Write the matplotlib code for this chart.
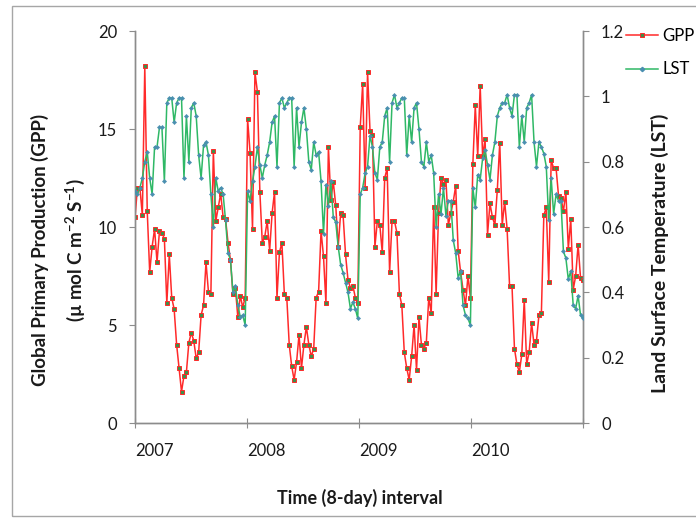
import numpy as np
import matplotlib.pyplot as plt
from matplotlib.lines import Line2D
from matplotlib.patches import Rectangle

plt.rcParams['font.family'] = ['Lato', 'DejaVu Sans']
plt.rcParams['mathtext.fontset'] = 'custom'
plt.rcParams['mathtext.rm'] = 'Lato:bold'
plt.rcParams['mathtext.bf'] = 'Lato:bold'
plt.rcParams['mathtext.it'] = 'Lato:bold:italic'

years = ['2007', '2008', '2009', '2010']

# GPP, 8-day composites (46 per year)
gpp_2007 = [10.5, 12.0, 12.0, 10.6, 18.2, 10.8, 7.7, 9.0, 9.9, 8.2,
            9.8, 9.7, 9.4, 6.1, 8.6, 6.4, 5.8, 4.0, 2.8, 1.6,
            2.4, 2.6, 4.1, 4.6, 4.2, 3.3, 3.6, 5.5, 6.0, 8.2,
            6.7, 6.6, 13.9, 10.3, 11.0, 11.7, 10.5, 10.4, 9.2, 8.3,
            6.6, 6.9, 5.4, 6.5, 5.9, 6.4]
gpp_2008 = [15.5, 13.8, 9.9, 17.9, 16.9, 11.8, 9.2, 9.5, 10.3, 8.8,
            10.7, 11.8, 6.4, 8.7, 9.2, 6.6, 6.4, 4.0, 2.9, 2.2,
            3.1, 4.5, 2.8, 4.0, 4.9, 4.0, 3.4, 3.8, 6.4, 6.7,
            9.8, 8.5, 6.1, 14.1, 11.4, 12.3, 11.1, 9.0, 10.7, 10.6,
            8.6, 7.3, 6.9, 7.0, 6.4, 6.1]
gpp_2009 = [15.1, 17.3, 12.0, 17.9, 14.9, 14.7, 9.0, 10.3, 10.1, 8.7,
            12.5, 13.0, 7.7, 10.3, 10.3, 9.7, 6.6, 6.0, 3.6, 2.8,
            2.2, 3.4, 5.0, 2.7, 5.4, 4.0, 3.8, 4.1, 6.4, 5.6,
            11.0, 6.6, 10.7, 12.5, 12.2, 12.4, 10.1, 10.7, 11.3, 12.1,
            8.8, 7.7, 6.8, 6.0, 7.5, 6.4]
gpp_2010 = [13.2, 16.2, 13.6, 17.2, 13.6, 14.5, 9.6, 11.2, 10.5, 10.1,
            11.9, 14.3, 10.1, 11.3, 9.9, 7.0, 7.0, 3.8, 3.0, 2.6,
            3.5, 6.3, 3.0, 3.6, 5.1, 4.0, 4.2, 5.5, 5.6, 10.6,
            11.0, 7.2, 13.4, 13.0, 13.0, 11.6, 11.5, 10.8, 11.8, 8.9,
            10.4, 6.8, 7.5, 9.1, 7.4, 7.3]

# LST (scaled)
lst_2007 = [0.71, 0.70, 0.72, 0.75, 0.80, 0.83, 0.75, 0.70, 0.845, 0.845,
            0.905, 0.905, 0.74, 0.98, 0.995, 0.995, 0.92, 0.98, 0.995, 0.995,
            0.75, 0.94, 0.80, 0.965, 0.98, 0.94, 0.82, 0.75, 0.85, 0.86,
            0.82, 0.70, 0.60, 0.75, 0.71, 0.72, 0.70, 0.62, 0.52, 0.50,
            0.40, 0.42, 0.36, 0.325, 0.33, 0.30]
lst_2008 = [0.71, 0.68, 0.74, 0.785, 0.845, 0.79, 0.75, 0.79, 0.82, 0.86,
            0.92, 0.94, 0.785, 0.98, 0.995, 0.965, 0.98, 0.995, 0.995, 0.785,
            0.965, 0.845, 0.92, 0.965, 0.90, 0.80, 0.775, 0.86, 0.82, 0.83,
            0.74, 0.58, 0.73, 0.665, 0.74, 0.63, 0.615, 0.54, 0.485, 0.46,
            0.43, 0.40, 0.35, 0.37, 0.35, 0.32]
lst_2009 = [0.70, 0.72, 0.765, 0.785, 0.88, 0.845, 0.765, 0.745, 0.845, 0.86,
            0.94, 0.965, 0.80, 0.98, 1.005, 0.965, 0.98, 0.995, 0.995, 0.82,
            0.94, 0.86, 0.965, 0.98, 0.90, 0.80, 0.785, 0.86, 0.80, 0.82,
            0.765, 0.60, 0.70, 0.64, 0.72, 0.635, 0.68, 0.68, 0.56, 0.52,
            0.445, 0.465, 0.36, 0.33, 0.32, 0.30]
lst_2010 = [0.72, 0.66, 0.76, 0.745, 0.81, 0.835, 0.79, 0.745, 0.82, 0.86,
            0.94, 0.965, 0.98, 0.98, 1.005, 0.965, 0.94, 1.005, 1.005, 0.845,
            0.94, 0.86, 0.965, 0.98, 1.005, 0.86, 0.785, 0.86, 0.845, 0.825,
            0.785, 0.62, 0.75, 0.64, 0.70, 0.68, 0.68, 0.525, 0.505, 0.44,
            0.465, 0.36, 0.35, 0.39, 0.33, 0.32]

gpp = np.array(gpp_2007 + gpp_2008 + gpp_2009 + gpp_2010)
lst = np.array(lst_2007 + lst_2008 + lst_2009 + lst_2010)
x = np.arange(len(gpp))

red = '#ff2a2a'
green = '#2fb866'
axis_gray = '#8c8c8c'
text_col = '#1a1a1a'

fig = plt.figure(figsize=(6.96, 5.21), dpi=100)
ax = fig.add_axes([135 / 696, 1 - 423 / 521, 448 / 696, 392 / 521])
ax2 = ax.twinx()

ax.plot(x, gpp, color=red, lw=1.1, marker='s', ms=3.2,
        mfc='#3f8f4a', mec=red, mew=0.7, label='GPP', zorder=3)
ax2.plot(x, lst, color=green, lw=1.1, marker='D', ms=2.2,
         mfc='#4a8fb0', mec='#4a8fb0', mew=0.3, label='LST', zorder=3)

ax.set_xlim(0, len(x) - 1)
ax.set_ylim(0, 20)
ax2.set_ylim(0, 1.2)

year_ticks = np.linspace(0, len(x) - 1, 5)
ax.set_xticks(year_ticks)
ax.set_xticklabels(years + [''], ha='left')
ax.set_yticks([0, 5, 10, 15, 20])
ax2.set_yticks([0, 0.2, 0.4, 0.6, 0.8, 1.0, 1.2])
ax2.set_yticklabels(['0', '0.2', '0.4', '0.6', '0.8', '1', '1.2'])

for a in (ax, ax2):
    a.spines['top'].set_visible(False)
    for s in ('left', 'right', 'bottom'):
        a.spines[s].set_color(axis_gray)
        a.spines[s].set_linewidth(1.0)

ax.tick_params(axis='x', direction='inout', length=7, width=0.8,
               color=axis_gray, labelsize=12, labelcolor=text_col, pad=11)
ax.tick_params(axis='y', direction='out', length=4, width=0.8,
               color=axis_gray, labelsize=12, labelcolor=text_col, pad=9)
ax2.tick_params(axis='y', direction='out', length=4, width=0.8,
                color=axis_gray, labelsize=12, labelcolor=text_col, pad=9)

fig.text(360 / 696, 1 - 498 / 521, 'Time (8-day) interval', ha='center',
         va='center', fontsize=13, fontweight='bold', color=text_col)
fig.text(40 / 696, 1 - 250 / 521, 'Global Primary Production (GPP)',
         rotation=90, ha='center', va='center', fontsize=13.5,
         fontweight='bold', color=text_col)
fig.text(75 / 696, 1 - 250 / 521, '(µ mol C m$^{-2}$ S$^{-1}$)',
         rotation=90, ha='center', va='center', fontsize=13.5,
         fontweight='bold', color=text_col)
fig.text(660 / 696, 1 - 253 / 521, 'Land Surface Temperature (LST)',
         rotation=90, ha='center', va='center', fontsize=14,
         fontweight='bold', color=text_col)

handles = [
    Line2D([], [], color=red, lw=1.1, marker='s', ms=3.2, mfc='#3f8f4a',
           mec=red, mew=0.7),
    Line2D([], [], color=green, lw=1.1, marker='D', ms=2.2, mfc='#4a8fb0',
           mec='#4a8fb0'),
]
fig.legend(handles, ['GPP', 'LST'], loc='upper left',
           bbox_to_anchor=(626 / 696, 1 - 28 / 521), frameon=False,
           borderpad=0, borderaxespad=0, handlelength=1.9,
           handletextpad=0.3, labelspacing=1.05, numpoints=1,
           prop={'size': 12})

fig.add_artist(Rectangle((12 / 696, 5 / 521), 1.0, 1 - 11 / 521,
                         transform=fig.transFigure, fill=False,
                         edgecolor='#a6a6a6', lw=1.0))

fig.savefig('out.png', dpi=100)
